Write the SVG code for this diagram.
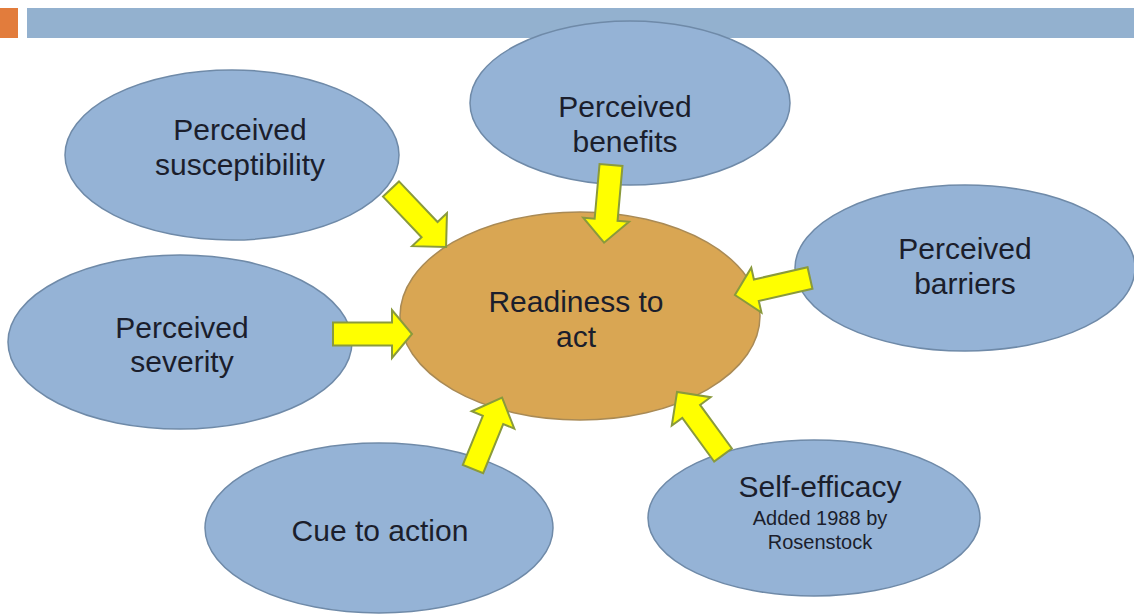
<svg xmlns="http://www.w3.org/2000/svg" width="1134" height="615" viewBox="0 0 1134 615">
<defs>
<style>
.b{fill:#95b3d6;stroke:#6f8aa8;stroke-width:1.5}
.o{fill:#d9a653;stroke:#a98a55;stroke-width:1.5}
.t{font-family:"Liberation Sans",Arial,sans-serif;font-size:30px;fill:#1b1e2c;text-anchor:middle}
.s{font-family:"Liberation Sans",Arial,sans-serif;font-size:20px;fill:#1b1e2c;text-anchor:middle}
.a{fill:#ffff00;stroke:#8a9a3c;stroke-width:2;stroke-linejoin:miter}
</style>
</defs>
<rect width="1134" height="615" fill="#ffffff"/>
<rect x="0" y="8" width="18" height="30" fill="#e27c3c"/>
<rect x="27" y="8" width="1107" height="30" fill="#93b1cf"/>

<g id="susceptibility"><ellipse class="b" cx="232" cy="155" rx="167" ry="85"/><text class="t" x="240" y="140">Perceived</text><text class="t" x="240" y="175">susceptibility</text></g>
<g id="benefits"><ellipse class="b" cx="630" cy="103" rx="160" ry="82"/><text class="t" x="625" y="117">Perceived</text><text class="t" x="625" y="152">benefits</text></g>
<g id="barriers"><ellipse class="b" cx="965" cy="268" rx="170" ry="83"/><text class="t" x="965" y="259">Perceived</text><text class="t" x="965" y="294">barriers</text></g>
<g id="severity"><ellipse class="b" cx="180" cy="342" rx="172" ry="87"/><text class="t" x="182" y="338">Perceived</text><text class="t" x="182" y="372">severity</text></g>
<g id="readiness"><ellipse class="o" cx="580" cy="316" rx="180" ry="104"/><text class="t" x="576" y="312">Readiness to</text><text class="t" x="576" y="347">act</text></g>
<g id="cue"><ellipse class="b" cx="379" cy="528" rx="174" ry="85"/><text class="t" x="380" y="541">Cue to action</text></g>
<g id="selfefficacy"><ellipse class="b" cx="814" cy="518" rx="166" ry="78"/><text class="t" x="820" y="497">Self-efficacy</text><text class="s" x="820" y="525">Added 1988 by</text><text class="s" x="820" y="549">Rosenstock</text></g>

<g id="connectors">
<path class="a" transform="translate(391,189) rotate(46.5)" d="M0,-11 H56 V-24 L80,0 L56,24 V11 H0 Z"/>
<path class="a" transform="translate(611,165) rotate(95.1)" d="M0,-11.5 H55 V-23 L78,0 L55,23 V11.5 H0 Z"/>
<path class="a" transform="translate(333,334) rotate(0)" d="M0,-11.5 H59 V-24 L79,0 L59,24 V11.5 H0 Z"/>
<path class="a" transform="translate(473,469) rotate(-67.8)" d="M0,-11 H53 V-23 L77,0 L53,23 V11 H0 Z"/>
<path class="a" transform="translate(723,455) rotate(-126.1)" d="M0,-11 H54 V-24 L78,0 L54,24 V11 H0 Z"/>
<path class="a" transform="translate(810,278) rotate(167.2)" d="M0,-11 H55 V-23 L77,0 L55,23 V11 H0 Z"/>
</g>
</svg>
